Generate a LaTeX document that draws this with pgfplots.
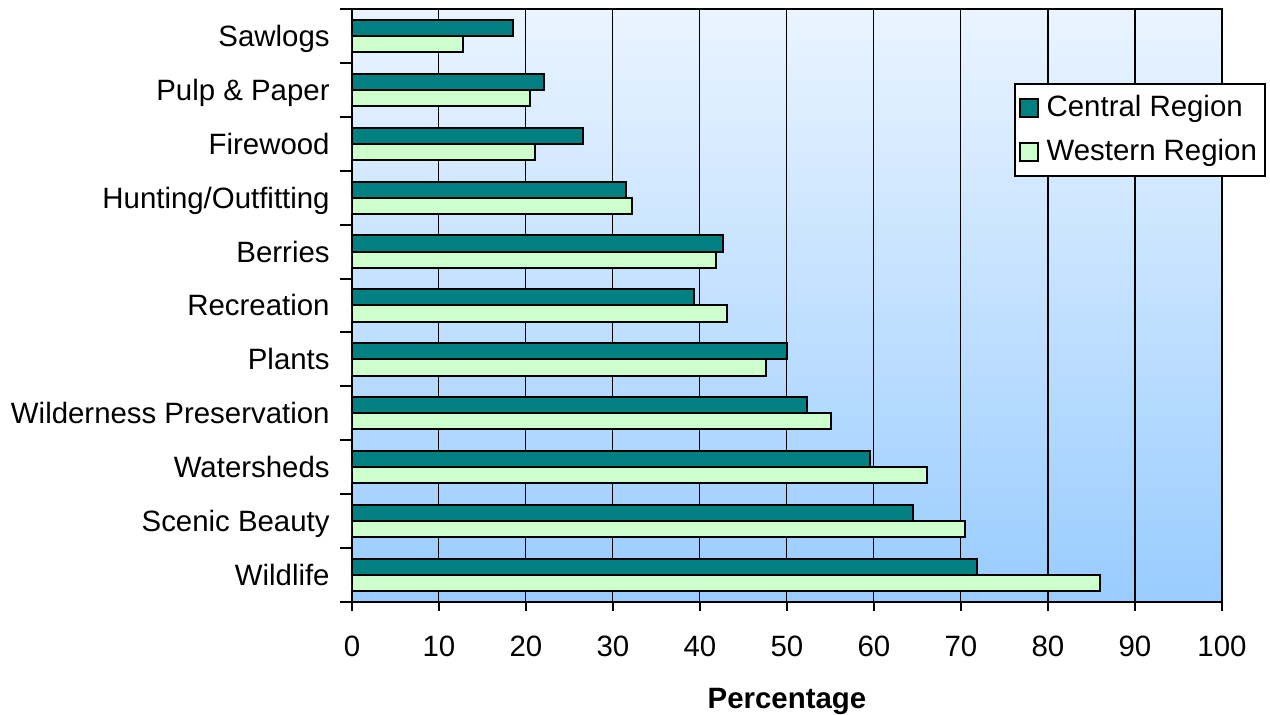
\documentclass[border=0pt]{standalone}
\usepackage{pgfplots}
\pgfplotsset{compat=1.18}
\usepackage{fontspec}
\setmainfont{Liberation Sans}

\definecolor{central}{HTML}{008080}
\definecolor{western}{HTML}{CCFFCC}
\definecolor{bgtop}{HTML}{EAF4FF}
\definecolor{bgbottom}{HTML}{99CCFF}

% Shares of respondents (%) by forest value, listed top to bottom
\pgfplotstableread{
idx central western
0   18.5    12.8
1   22.1    20.5
2   26.5    21.0
3   31.5    32.2
4   42.7    41.8
5   39.3    43.1
6   50.0    47.6
7   52.3    55.1
8   59.5    66.1
9   64.5    70.5
10  71.8    86.0
}\valuestable

\begin{document}
\fontsize{14.7}{17.6}\selectfont
\begin{tikzpicture}
\begin{axis}[
  at={(0pt,0pt)}, anchor=south west,
  scale only axis,
  width=435pt, height=296.5pt,
  xmin=0, xmax=100,
  ymin=-0.5, ymax=10.5,
  y dir=reverse,
  xbar, bar width=0.3,
  axis background/.style={top color=bgtop, bottom color=bgbottom},
  axis line style={black, line width=1pt},
  xtick={0,10,...,100},
  ytick={0,...,10},
  yticklabels={Sawlogs, Pulp \& Paper, Firewood, Hunting/Outfitting, Berries,
    Recreation, Plants, Wilderness Preservation, Watersheds, Scenic Beauty, Wildlife},
  minor ytick={-0.5,0.5,...,10.5},
  major y tick style={draw=none},
  tick align=outside,
  xtick pos=lower, ytick pos=lower,
  major tick length=4.5pt, minor tick length=6pt,
  tick style={black, line width=1pt},
  xmajorgrids,
  major grid style={black, line width=0.5pt},
  extra x ticks={80,90},
  extra x tick labels={},
  extra x tick style={grid=major, major grid style={black, line width=1pt}, tick style={draw=none}},
  /pgf/number format/assume math mode=true,
  ticklabel style={font=\fontsize{14.7}{17.6}\selectfont},
  yticklabel style={inner sep=0pt, anchor=east, xshift=-6.5pt,
    text height=10.5pt, text depth=0pt},
  xticklabel style={inner sep=0pt, anchor=north, yshift=-12.5pt},
  xlabel={\textbf{Percentage}},
  xlabel style={at={(axis description cs:0.5,0)}, anchor=north, inner sep=0pt,
    yshift=-43pt, font=\fontsize{14.7}{17.6}\selectfont},
  legend cell align=left,
  legend image code/.code={\draw[#1, line width=0.8pt] (0pt,-4.5pt) rectangle (9pt,4.5pt);},
  legend style={at={(axis description cs:0.761,0.875)}, anchor=north west,
    draw=black, line width=1pt, fill=white,
    font=\fontsize{14.7}{17.6}\selectfont,
    inner xsep=2pt, inner ysep=1pt,
    nodes={inner xsep=2pt, inner ysep=3pt, text height=12pt, text depth=4pt},
    column sep=2pt, row sep=0pt},
]
\addplot[draw=black, line width=1pt, fill=central, bar shift=-0.15]
  table[x=central, y=idx] {\valuestable};
\addlegendentry{Central Region}
\addplot[draw=black, line width=1pt, fill=western, bar shift=0.15]
  table[x=western, y=idx] {\valuestable};
\addlegendentry{Western Region}
\end{axis}
\pgfresetboundingbox
\path[use as bounding box] (-176pt,-56.5pt) rectangle (459pt,301pt);
\end{tikzpicture}
\end{document}
